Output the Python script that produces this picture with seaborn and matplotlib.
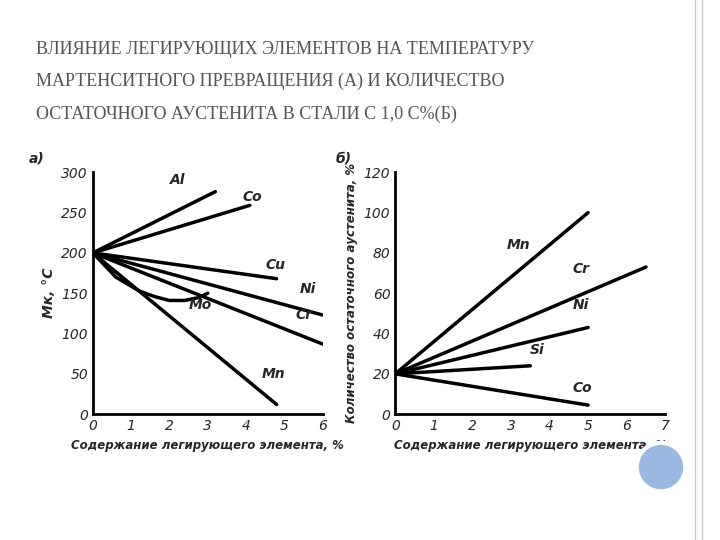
import matplotlib
matplotlib.use("Agg")
import matplotlib.pyplot as plt
import seaborn as sns
from matplotlib.patches import Ellipse

sns.set_style("white")
plt.rcParams['font.family'] = ['DejaVu Sans']

# Left chart: Mk, °C vs alloying content
left_names = ["Al", "Co", "Cu", "Ni", "Cr", "Mn"]
left_x_end = [3.2, 4.1, 4.8, 6.0, 6.0, 4.8]
left_y_end = [276, 259, 168, 123, 87, 12]
left_start = 200
mo_x = [0, 0.6, 1.2, 1.6, 2.0, 2.4, 2.8, 3.0]
mo_y = [200, 170, 153, 146, 141, 141, 145, 150]
left_label_pos = {"Al": (2.0, 285), "Co": (3.9, 264), "Cu": (4.5, 180), "Ni": (5.4, 150),
                  "Cr": (5.3, 118), "Mo": (2.5, 130), "Mn": (4.4, 45)}

# Right chart: retained austenite %
right_names = ["Mn", "Cr", "Ni", "Si", "Co"]
right_x_end = [5.0, 6.5, 5.0, 3.5, 5.0]
right_y_end = [100, 73, 43, 24, 4.5]
right_start = 20
right_label_pos = {"Mn": (2.9, 82), "Cr": (4.6, 70), "Ni": (4.6, 52), "Si": (3.5, 30), "Co": (4.6, 11)}

fig = plt.figure(figsize=(7.2, 5.4), dpi=100)
fig.patch.set_facecolor("white")

fig.text(0.05, 0.9, "ВЛИЯНИЕ ЛЕГИРУЮЩИХ ЭЛЕМЕНТОВ НА ТЕМПЕРАТУРУ", fontsize=13, color="#555555", family="Liberation Serif")
fig.text(0.05, 0.84, "МАРТЕНСИТНОГО ПРЕВРАЩЕНИЯ (А) И КОЛИЧЕСТВО", fontsize=13, color="#555555", family="Liberation Serif")
fig.text(0.05, 0.78, "ОСТАТОЧНОГО АУСТЕНИТА В СТАЛИ С 1,0 С%(Б)", fontsize=13, color="#555555", family="Liberation Serif")

for xx in [0.965, 0.975]:
    fig.add_artist(plt.Line2D([xx, xx], [0, 1], color="#cccccc", lw=1))
fig.add_artist(Ellipse((0.918, 0.135), 0.09 * 540 / 720, 0.09, transform=fig.transFigure,
                       facecolor="#9ab8e0", edgecolor="white", lw=3))

tk = dict(fontsize=10, fontstyle="italic", fontweight="bold")
lk = dict(fontsize=8.5, fontstyle="italic", fontweight="bold")

ax1 = fig.add_axes([0.129, 0.233, 0.319, 0.448])
for n, xe, ye in zip(left_names, left_x_end, left_y_end):
    sns.lineplot(x=[0, xe], y=[left_start, ye], ax=ax1, color="black", lw=2.5)
sns.lineplot(x=mo_x, y=mo_y, ax=ax1, color="black", lw=2.5, sort=False)
for n, (px, py) in left_label_pos.items():
    ax1.text(px, py, n, **tk)
ax1.set_xlim(0, 6)
ax1.set_ylim(0, 300)
ax1.set_xticks(range(0, 7))
ax1.set_yticks(range(0, 301, 50))
ax1.set_xlabel("Содержание легирующего элемента, %", **lk)
ax1.set_ylabel("Mк, °C", **tk)
ax1.text(-0.28, 1.04, "а)", transform=ax1.transAxes, **tk)

ax2 = fig.add_axes([0.549, 0.233, 0.375, 0.448])
for n, xe, ye in zip(right_names, right_x_end, right_y_end):
    sns.lineplot(x=[0, xe], y=[right_start, ye], ax=ax2, color="black", lw=2.5)
for n, (px, py) in right_label_pos.items():
    ax2.text(px, py, n, **tk)
ax2.set_xlim(0, 7)
ax2.set_ylim(0, 120)
ax2.set_xticks(range(0, 8))
ax2.set_yticks(range(0, 121, 20))
ax2.set_xlabel("Содержание легирующего элемента, %", **lk)
ax2.set_ylabel("Количество остаточного аустенита, %", fontsize=8.5, fontstyle="italic", fontweight="bold")
ax2.text(-0.22, 1.04, "б)", transform=ax2.transAxes, **tk)

for ax in (ax1, ax2):
    for s in ["top", "right"]:
        ax.spines[s].set_visible(False)
    for s in ["left", "bottom"]:
        ax.spines[s].set_linewidth(2)
        ax.spines[s].set_color("black")
    ax.tick_params(direction="in", length=5, width=1.5)
    for lab in ax.get_xticklabels() + ax.get_yticklabels():
        lab.set_fontstyle("italic")
        lab.set_fontsize(10)

fig.savefig("out.png", dpi=100)
